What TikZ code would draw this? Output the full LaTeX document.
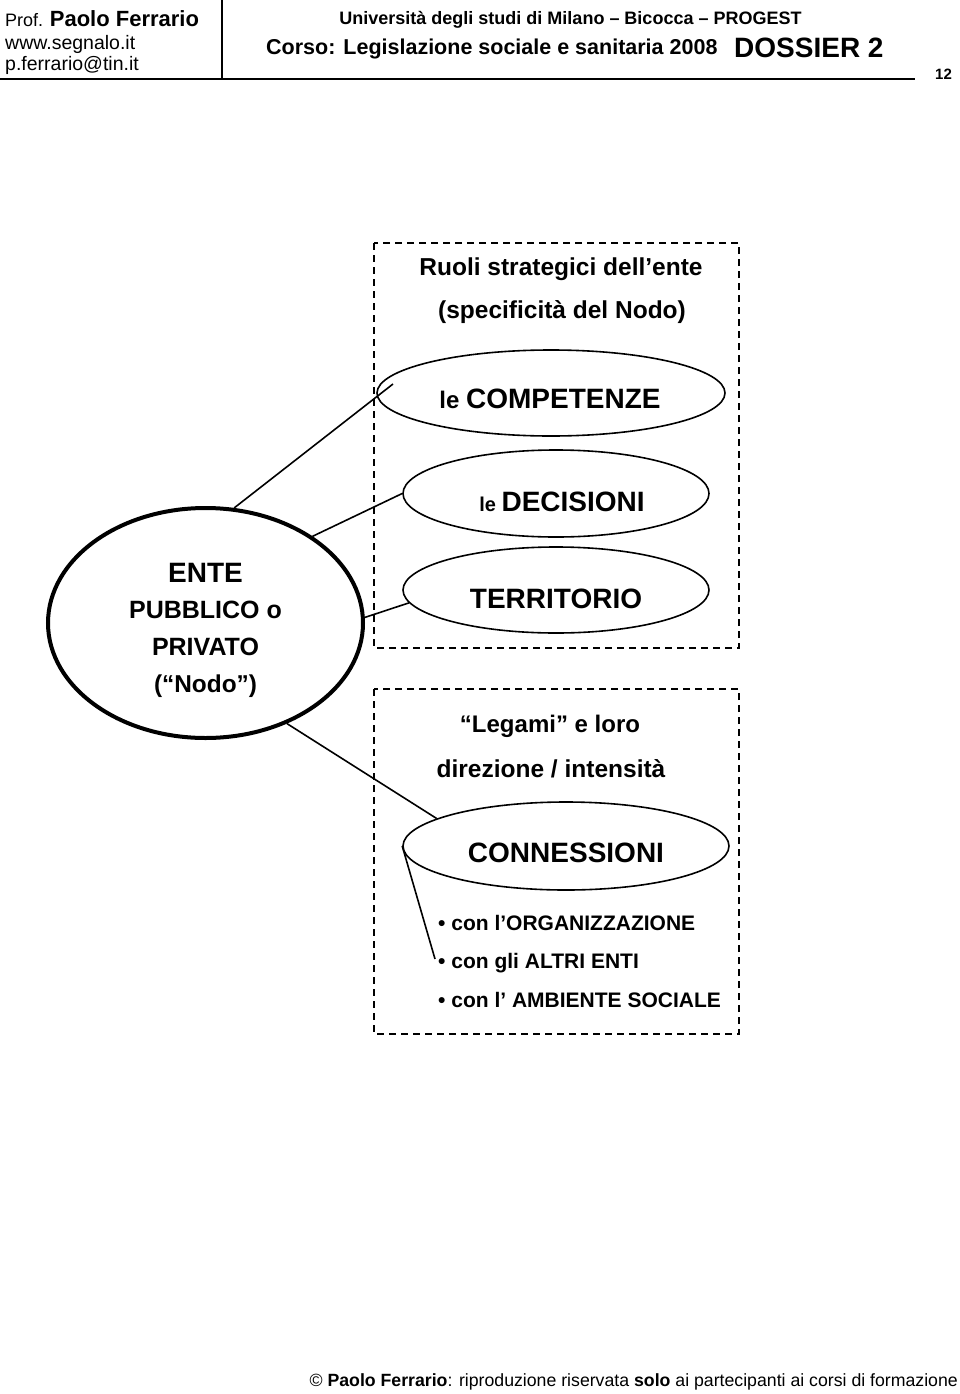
\documentclass[tikz,border=0pt]{standalone}
\usepackage{fontspec}
\setmainfont{Liberation Sans}
\usetikzlibrary{shapes.geometric}
\newcommand\fs[1]{\fontsize{#1}{#1}\selectfont}
\begin{document}
\begin{tikzpicture}[x=1pt,y=-1pt,
  txt/.style={inner sep=0pt, anchor=base},
  txtl/.style={inner sep=0pt, anchor=base west},
  oval/.style={draw, ellipse, line width=1.6pt, inner sep=0pt},
  link/.style={line width=1.6pt},
  rule/.style={line width=1.8pt},
  dbox/.style={draw, line width=1.8pt, dash pattern=on 7pt off 5pt},
]
\useasboundingbox (0,0) rectangle (960,1394);
\fill[white] (0,0) rectangle (960,1394);

% header
\node[txtl] (prof) at (5,27) {\fs{18}Prof. \fs{22}\bfseries Paolo Ferrario};
\node[txtl] (www) at (5,50) {\fs{19.5}www.segnalo.it};
\node[txtl] (mail) at (5,71) {\fs{19.5}p.ferrario@tin.it};
\draw[rule] (222,0) -- (222,79);
\draw[rule] (0,79) -- (915,79);
\node[txt] (uni) at (570.5,25) {\fs{18}\bfseries Università degli studi di Milano – Bicocca – PROGEST};
\node[txtl] (corso) at (266,55) {\fs{21.5}\bfseries Corso: Legislazione sociale e sanitaria 2008};
\node[txtl] (dossier) at (734,58) {\fs{28}\bfseries DOSSIER 2};
\node[txtl] (page) at (935,80) {\fs{15}\bfseries 12};

% dashed boxes
\draw[dbox] (374,243) rectangle (739,648);
\draw[dbox] (374,689) rectangle (739,1034);

% ellipses
\node[oval, minimum width=348pt, minimum height=86pt] (comp) at (551,393) {};
\node[oval, minimum width=306pt, minimum height=87pt] (dec) at (556,493.5) {};
\node[oval, minimum width=306pt, minimum height=86pt] (terr) at (556,590) {};
\node[oval, minimum width=326pt, minimum height=88pt] (conn) at (566,846) {};
\node[oval, line width=4pt, minimum width=315pt, minimum height=230pt] (ente) at (205.5,623) {};

% texts
\node[txt] (ruoli) at (561,275) {\fs{24.5}\bfseries Ruoli strategici dell’ente};
\node[txt] (spec) at (562,318) {\fs{24.5}\bfseries (specificità del Nodo)};
\node[txt] (compT) at (550,408) {\fs{24}\bfseries le \fs{28}COMPETENZE};
\node[txt] (decT) at (562,511) {\fs{20}\bfseries le \fs{28}DECISIONI};
\node[txt] (terrT) at (556,608) {\fs{28}\bfseries TERRITORIO};
\node[txt] (leg) at (550,732) {\fs{24}\bfseries “Legami” e loro};
\node[txt] (dir) at (551,777) {\fs{24.5}\bfseries direzione / intensità};
\node[txt] (connT) at (566,862) {\fs{28}\bfseries CONNESSIONI};
\node[txtl] (b1) at (438,930) {\fs{21}\bfseries • con l’ORGANIZZAZIONE};
\node[txtl] (b2) at (438,968) {\fs{21}\bfseries • con gli ALTRI ENTI};
\node[txtl] (b3) at (438,1007) {\fs{21}\bfseries • con l’ AMBIENTE SOCIALE};
\node[txt] (e1) at (205.5,582) {\fs{28}\bfseries ENTE};
\node[txt] (e2) at (205.5,618) {\fs{25}\bfseries PUBBLICO o};
\node[txt] (e3) at (205.5,655) {\fs{25}\bfseries PRIVATO};
\node[txt] (e4) at (205.5,692) {\fs{24.4}\bfseries (“Nodo”)};

% connectors
\coordinate (compEnd) at (393,384);
\coordinate (listEnd) at (435,959);
\draw[link] (ente.76) -- (compEnd);
\draw[link] (ente.39) -- (dec.west);
\draw[link] (ente.2) -- (terr.185);
\draw[link] (ente.-51) -- (conn.168);
\draw[link] (conn.west) -- (listEnd);

% footer
\node[txt, anchor=base east] (foot) at (958,1386) {\fs{17.7}© \textbf{Paolo Ferrario}: riproduzione riservata \textbf{solo} ai partecipanti ai corsi di formazione};
\end{tikzpicture}
\end{document}
